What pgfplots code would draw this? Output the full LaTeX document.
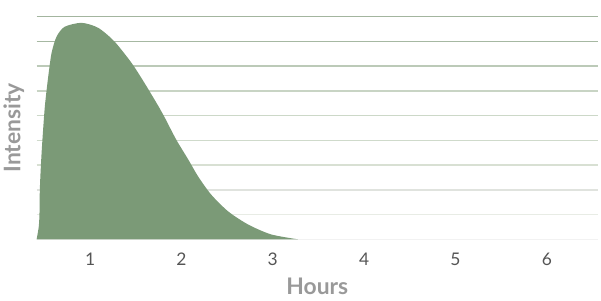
\documentclass[border=0pt]{standalone}
\usepackage{pgfplots}
\pgfplotsset{compat=1.18}
\usepackage{fontspec}
\setmainfont{Lato}
\definecolor{fillg}{HTML}{7B9A77}
\definecolor{g9}{HTML}{A3B59F}
\definecolor{g8}{HTML}{A6B8A2}
\definecolor{g7}{HTML}{BCCAB8}
\definecolor{g6}{HTML}{C8D4C4}
\definecolor{g5}{HTML}{CCD8C8}
\definecolor{g4}{HTML}{CFDACB}
\definecolor{g3}{HTML}{D8E0D3}
\definecolor{g2}{HTML}{E0E3DE}
\definecolor{g1}{HTML}{E8ECE5}
\definecolor{g0}{HTML}{F2F2F2}
\definecolor{ticklab}{HTML}{555555}
\definecolor{axlab}{HTML}{999999}
\begin{document}
\begin{tikzpicture}
\begin{axis}[
  scale only axis,
  width=563bp, height=223.3bp,
  xmin=0.415, xmax=6.56,
  ymin=0, ymax=9,
  axis line style={draw=none},
  xtick={1,2,3,4,5,6},
  ytick=\empty,
  major tick length=0pt,
  tick label style={font=\fontsize{17.5}{19}\selectfont, text=ticklab},
  xticklabel style={anchor=center, yshift=-20bp},
  /pgf/number format/assume math mode=true,
  xlabel={Hours},
  ylabel={Intensity},
  label style={font=\fontsize{23}{25}\selectfont\bfseries, text=axlab},
  xlabel style={at={(axis description cs:0.5,0)}, anchor=center, yshift=-47bp},
  ylabel style={at={(axis description cs:0,0.5)}, anchor=center, yshift=23bp},
  clip=false,
]
\foreach \i in {0,...,9} {
  \edef\tmp{\noexpand\draw[color=g\i, line width=1.5bp] (axis cs:0.415,\i) -- (axis cs:6.56,\i);}
  \tmp
}
\addplot[fill=fillg, draw=none, smooth, tension=0.45] coordinates {
(0.415,0) (0.438,0.5) (0.446,1.0) (0.450,2.0) (0.462,3.0) (0.478,4.0) (0.505,5.37) (0.542,6.58)
(0.579,7.54) (0.633,8.19) (0.721,8.59) (0.906,8.75) (1.088,8.55) (1.266,8.0)
(1.452,7.14) (1.594,6.33) (1.758,5.32) (1.812,4.96) (1.943,4.03) (2.074,3.23)
(2.183,2.54) (2.325,1.81) (2.511,1.13) (2.729,0.60) (2.980,0.20) (3.275,0)
} \closedcycle;
\path[use as bounding box] (axis cs:0.415,0) ++(-35bp,-61bp) rectangle ++(601bp,301bp);
\end{axis}
\end{tikzpicture}
\end{document}
